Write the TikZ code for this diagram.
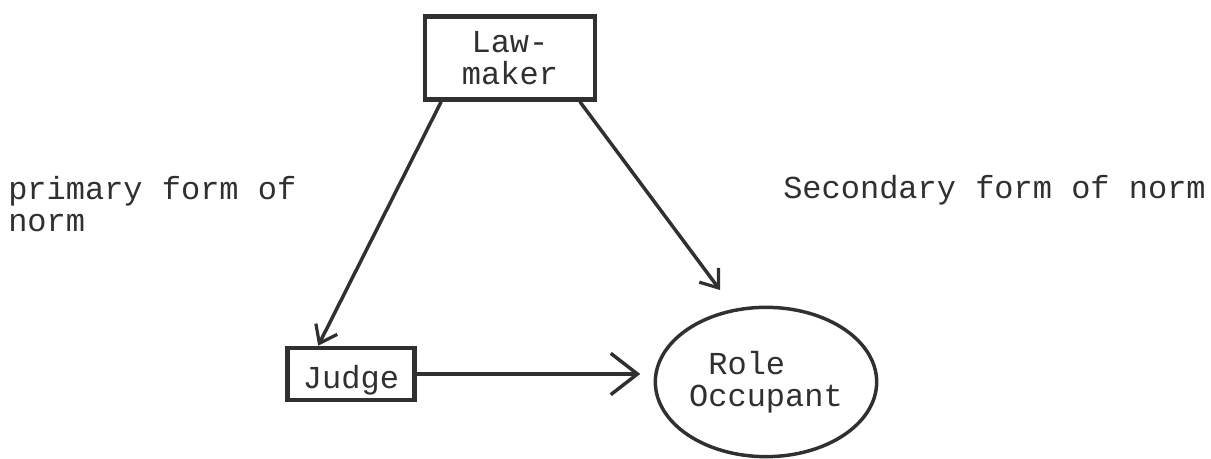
\documentclass[tikz,border=0pt]{standalone}
\usepackage{fontspec}
\setmonofont{Liberation Mono}
\usetikzlibrary{arrows.meta,shapes.geometric,calc}
\definecolor{ink}{HTML}{303030}
\tikzset{
  tw/.style={font=\ttfamily\fontsize{24}{24}\selectfont, text=ink, inner sep=0pt},
  boxnode/.style={draw=ink, line width=3.5pt, rectangle, inner sep=0pt},
  conn/.style={draw=ink, line width=2.6pt},
  bigtip/.style={-{Straight Barb[length=20pt,width=31pt,line width=2.6pt]}},
  smalltip/.style={-{Straight Barb[length=12pt,width=18pt,line width=2.4pt]}}
}
\begin{document}
\begin{tikzpicture}[x=0.75pt,y=-0.75pt]
\useasboundingbox (0,0) rectangle (1211,459);
\node[boxnode, tw, minimum width=127.5pt, minimum height=62pt, align=center] (law) at (510,58) {Law-\\maker};
\node[boxnode, tw, minimum width=95pt, minimum height=39pt, text height=22pt, text depth=0pt] (judge) at (351,374) {Judge};
\node[draw=ink, line width=2.6pt, ellipse, inner sep=0pt, minimum width=166pt, minimum height=112pt, tw, align=left] (role) at (766,382) {\phantom{O}Role\\Occupant};
\node[tw, align=left, anchor=west] (prim) at (8,204) {primary form of\\norm};
\node[tw, anchor=west] (sec) at (783,190) {Secondary form of norm};
\coordinate (rtip) at (720,290);
\draw[conn, smalltip] ($(law.south west)!0.106!(law.south east)$) -- ($(judge.north west)!0.25!(judge.north east)$);
\draw[conn, smalltip] ($(law.south west)!0.9!(law.south east)$) -- (rtip);
\draw[conn, bigtip, shorten >=10pt] (judge.east) -- (judge.east -| role.west);
\end{tikzpicture}
\end{document}
